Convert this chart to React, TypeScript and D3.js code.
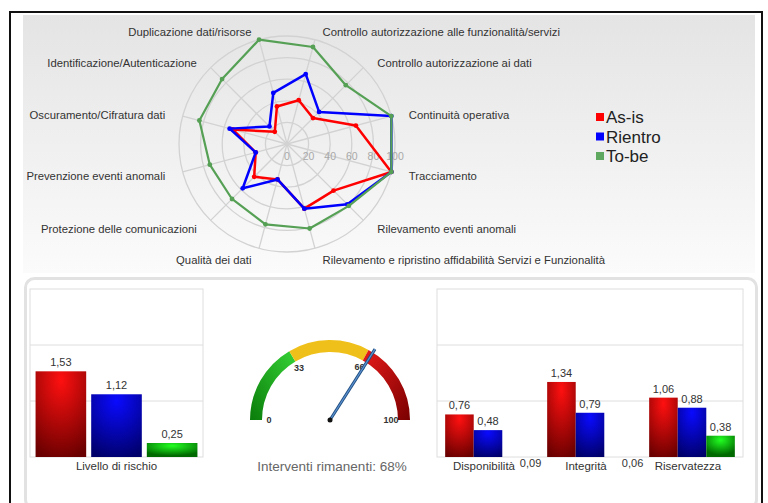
import React from 'react';
import * as d3 from 'd3';

// radar: 12 security controls, clockwise from the top-right
const categories = [
  'Controllo autorizzazione alle funzionalità/servizi',
  'Controllo autorizzazione ai dati',
  'Continuità operativa',
  'Tracciamento',
  'Rilevamento eventi anomali',
  'Rilevamento e ripristino affidabilità Servizi e Funzionalità',
  'Qualità dei dati',
  'Protezione delle comunicazioni',
  'Prevenzione eventi anomali',
  'Oscuramento/Cifratura dati',
  'Identificazione/Autenticazione',
  'Duplicazione dati/risorse',
];
const asIs = [42, 34, 66, 100, 61, 62, 34, 43, 30, 52, 16, 36];
const rientro = [67, 42, 100, 100, 79, 62, 34, 58, 30, 55, 23, 49];
const toBe = [93, 77, 100, 100, 81, 81, 77, 72, 74, 84, 85, 100];
const radarTicks = [0, 20, 40, 60, 80, 100];

const seriesNames = ['As-is', 'Rientro', 'To-be'];

// risk level bars
const riskLevel = [1.53, 1.12, 0.25];

// CIA bars
const ciaGroups = ['Disponibilità', 'Integrità', 'Riservatezza'];
const ciaAsIs = [0.76, 1.34, 1.06];
const ciaRientro = [0.48, 0.79, 0.88];
const ciaToBe = [0.09, 0.06, 0.38];
const barTicks = [1, 2, 3];

// gauge
const gaugeBands = [0, 33, 66, 100];
const gaugeValue = 68;

const FONT = '"Liberation Sans", Arial, sans-serif';
const lineColors = ['#ff0000', '#0000ff', '#55a055'];
const barIds = ['gRed', 'gBlue', 'gGreen'];

const fmt = (v: number) => d3.format('.2f')(v).replace('.', ',');

function Radar() {
  const cx = 287, cy = 144;
  const r = d3.scaleLinear().domain([0, 100]).range([0, 108]);
  const angle = (i: number) => Math.PI / 12 + (i * 2 * Math.PI) / categories.length;
  const line = d3.lineRadial<number>()
    .angle((_, i) => angle(i))
    .radius(d => r(d))
    .curve(d3.curveLinearClosed);
  const all = [asIs, rientro, toBe];
  return (
    <g transform={`translate(${cx},${cy})`}>
      {radarTicks.slice(1).map(t => (
        <circle key={t} r={r(t)} fill="none" stroke="#d2d2d2" strokeWidth={1.3} />
      ))}
      {categories.map((c, i) => {
        const a = angle(i);
        return (
          <line key={c} x1={0} y1={0} x2={r(100) * Math.sin(a)} y2={-r(100) * Math.cos(a)}
            stroke="#d2d2d2" strokeWidth={1.3} />
        );
      })}
      {radarTicks.map(t => (
        <text key={t} x={r(t)} y={16} textAnchor="middle" fontSize={10.5} fill="#a8a8a8" fontFamily={FONT}>{t}</text>
      ))}
      {all.map((s, k) => (
        <g key={k}>
          <path d={line(s) || ''} fill="none" stroke={lineColors[k]} strokeWidth={k === 2 ? 2.2 : 2.5} strokeLinejoin="round" />
          {s.map((v, i) => (
            <circle key={i} cx={r(v) * Math.sin(angle(i))} cy={-r(v) * Math.cos(angle(i))} r={2.4} fill={lineColors[k]} />
          ))}
        </g>
      ))}
      {categories.map((c, i) => {
        const a = angle(i);
        const right = Math.sin(a) > 0;
        return (
          <text key={c} x={122 * Math.sin(a) + (right ? 4 : -4)} y={-118 * Math.cos(a) + 2}
            dy="0.35em" textAnchor={right ? 'start' : 'end'} fontSize={11.3} fill="#333" fontFamily={FONT}>{c}</text>
        );
      })}
    </g>
  );
}

function Legend() {
  return (
    <g transform="translate(596,117)">
      {seriesNames.map((s, i) => (
        <g key={s} transform={`translate(0,${i * 19.5})`}>
          <rect x={0} y={-4} width={8} height={8} fill={i === 2 ? '#5fa85f' : lineColors[i]} />
          <text x={10} y={0} dy="0.36em" fontSize={17} fill="#222" fontFamily={FONT}>{s}</text>
        </g>
      ))}
    </g>
  );
}

function RiskBars() {
  const x0 = 30, x1 = 203, top = 289, bottom = 457;
  const x = d3.scaleBand().domain(seriesNames).range([x0, x1]).paddingInner(0.09).paddingOuter(0.1);
  const y = d3.scaleLinear().domain([0, 3]).range([bottom, top]);
  return (
    <g>
      <rect x={x0} y={top} width={x1 - x0} height={bottom - top} fill="#fff" stroke="#dedede" />
      {barTicks.slice(0, 2).map(t => (
        <line key={t} x1={x0} x2={x1} y1={y(t)} y2={y(t)} stroke="#dedede" />
      ))}
      {seriesNames.map((s, i) => (
        <g key={s}>
          <rect x={x(s)} y={y(riskLevel[i])} width={x.bandwidth()} height={y(0) - y(riskLevel[i])} fill={`url(#${barIds[i]})`} />
          <text x={(x(s) || 0) + x.bandwidth() / 2} y={y(riskLevel[i]) - 5} textAnchor="middle" fontSize={11} fill="#333" fontFamily={FONT}>{fmt(riskLevel[i])}</text>
        </g>
      ))}
      <text x={(x0 + x1) / 2} y={bottom + 13} textAnchor="middle" fontSize={11.5} fill="#333" fontFamily={FONT}>Livello di rischio</text>
    </g>
  );
}

function CiaBars() {
  const x0 = 437, x1 = 743, top = 289, bottom = 457;
  const xg = d3.scaleBand().domain(ciaGroups).range([x0, x1]).paddingInner(0.16).paddingOuter(0.08);
  const xs = d3.scaleBand().domain(seriesNames).range([0, xg.bandwidth()]);
  const y = d3.scaleLinear().domain([0, 3]).range([bottom, top]);
  const vals = [ciaAsIs, ciaRientro, ciaToBe];
  // the source chart hides bars too short to show, labelling them under the axis
  const minShown = 0.1;
  return (
    <g>
      <rect x={x0} y={top} width={x1 - x0} height={bottom - top} fill="#fff" stroke="#dedede" />
      {barTicks.slice(0, 2).map(t => (
        <line key={t} x1={x0} x2={x1} y1={y(t)} y2={y(t)} stroke="#dedede" />
      ))}
      {ciaGroups.map((g, gi) => (
        <g key={g} transform={`translate(${xg(g)},0)`}>
          <text x={xg.bandwidth() / 2 - 4} y={bottom + 13} textAnchor="middle" fontSize={11.5} fill="#333" fontFamily={FONT}>{g}</text>
          {seriesNames.map((s, si) => {
            const v = vals[si][gi];
            const bx = xs(s) || 0;
            const cxb = bx + xs.bandwidth() / 2;
            if (v < minShown) {
              return (
                <text key={s} x={cxb + 14} y={bottom + 10} textAnchor="middle" fontSize={11} fill="#333" fontFamily={FONT}>{fmt(v)}</text>
              );
            }
            return (
              <g key={s}>
                <rect x={bx} y={y(v)} width={xs.bandwidth()} height={y(0) - y(v)} fill={`url(#${barIds[si]})`} />
                <text x={cxb} y={y(v) - 5} textAnchor="middle" fontSize={11} fill="#333" fontFamily={FONT}>{fmt(v)}</text>
              </g>
            );
          })}
        </g>
      ))}
    </g>
  );
}

function Gauge() {
  const cx = 330, cy = 420, rOut = 80, rIn = 68;
  const a = d3.scaleLinear().domain([0, 100]).range([-Math.PI / 2, Math.PI / 2]);
  const arc = d3.arc<{ s: number; e: number }>()
    .innerRadius(rIn).outerRadius(rOut)
    .startAngle(d => a(d.s)).endAngle(d => a(d.e));
  const fills = ['url(#gaugeGreen)', 'url(#gaugeYellow)', 'url(#gaugeRed)'];
  const na = a(gaugeValue);
  return (
    <g transform={`translate(${cx},${cy})`}>
      {gaugeBands.slice(0, -1).map((b, i) => (
        <path key={b} d={arc({ s: b, e: gaugeBands[i + 1] }) || ''} fill={fills[i]} />
      ))}
      {gaugeBands.map(b => (
        <text key={b} x={61 * Math.sin(a(b))} y={-61 * Math.cos(a(b))} dy="0.35em" textAnchor="middle"
          fontSize={9} fontWeight="bold" fill="#333" fontFamily={FONT}>{b}</text>
      ))}
      <line x1={0} y1={0} x2={84 * Math.sin(na)} y2={-84 * Math.cos(na)} stroke="#1f4f80" strokeWidth={3} />
      <line x1={0} y1={0} x2={84 * Math.sin(na)} y2={-84 * Math.cos(na)} stroke="#5b8fcf" strokeWidth={1.2} />
      <circle r={2.5} fill="#111" />
      <text x={2} y={51} textAnchor="middle" fontSize={13.5} fill="#666" fontFamily={FONT}>Interventi rimanenti: {gaugeValue}%</text>
    </g>
  );
}

export default function App() {
  return (
    <svg width={768} height={503} style={{ position: 'absolute', left: 0, top: 0, background: '#fff' }}>
      <defs>
        <linearGradient id="panelBg" x1="0" y1="0" x2="0" y2="1">
          <stop offset="0" stopColor="#e4e4e4" />
          <stop offset="1" stopColor="#fbfbfb" />
        </linearGradient>
        <radialGradient id="gRed" cx="50%" cy="10%" r="95%">
          <stop offset="0" stopColor="#ff1010" />
          <stop offset="1" stopColor="#6a0000" />
        </radialGradient>
        <radialGradient id="gBlue" cx="50%" cy="10%" r="95%">
          <stop offset="0" stopColor="#0a0aff" />
          <stop offset="1" stopColor="#00006a" />
        </radialGradient>
        <radialGradient id="gGreen" cx="50%" cy="20%" r="70%">
          <stop offset="0" stopColor="#22ff22" />
          <stop offset="1" stopColor="#006a00" />
        </radialGradient>
        <linearGradient id="gaugeGreen" x1="1" y1="0" x2="0" y2="1">
          <stop offset="0" stopColor="#36d236" />
          <stop offset="1" stopColor="#0a7c0a" />
        </linearGradient>
        <radialGradient id="gaugeYellow" gradientUnits="userSpaceOnUse" cx="330" cy="420" r="80">
          <stop offset="0.85" stopColor="#f2c21c" />
          <stop offset="0.93" stopColor="#fce883" />
          <stop offset="1" stopColor="#f0c01a" />
        </radialGradient>
        <linearGradient id="gaugeRed" x1="0" y1="0" x2="1" y2="1">
          <stop offset="0" stopColor="#e81a1a" />
          <stop offset="1" stopColor="#7a0000" />
        </linearGradient>
      </defs>
      <rect x={23} y={15} width={732} height={258} fill="url(#panelBg)" />
      <rect x={25.5} y={278.5} width={731} height={230} rx={9} fill="#fff" stroke="#e2e2e2" strokeWidth={3} />
      <Radar />
      <Legend />
      <RiskBars />
      <Gauge />
      <CiaBars />
      <rect x={10} y={12} width={752} height={500} fill="none" stroke="#111" strokeWidth={2} />
    </svg>
  );
}
